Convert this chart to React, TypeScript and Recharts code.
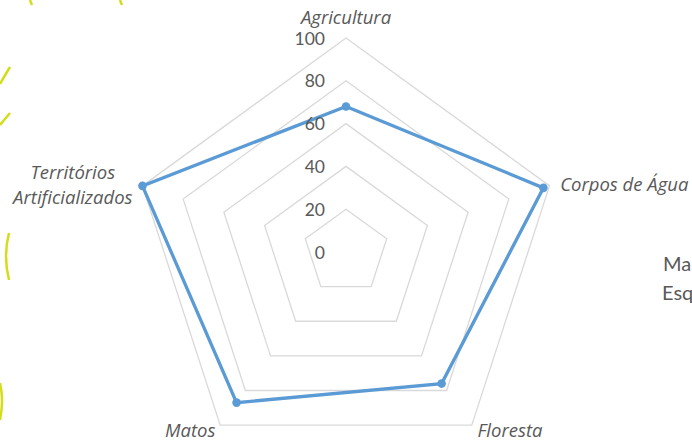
import React from "react";
import { RadarChart, Radar, PolarGrid, PolarAngleAxis, PolarRadiusAxis } from "recharts";

const CATEGORIES = ["Agricultura", "Corpos de Água", "Floresta", "Matos", "Territórios Artificializados"];
const VALUES = [68, 97, 76, 87, 100];
const RADIUS_TICKS = [0, 20, 40, 60, 80, 100];

const data = CATEGORIES.map((c, i) => ({ category: c, value: VALUES[i] }));

const TEXT = "#595959";
const LINE = "#5b9bd5";
const FONT = "Lato, 'Open Sans', sans-serif";
const LABEL_FONT = "'Open Sans', Lato, sans-serif";

function RadiusTick(props: any) {
  const { x, y, payload } = props;
  return (
    <text x={x - 21} y={y} textAnchor="end" dominantBaseline="central" fill={TEXT} fontSize={17.5} fontFamily={FONT}>
      {payload.value}
    </text>
  );
}

function AngleTick(props: any) {
  const { x, y, payload } = props;
  const label: string = payload.value;
  const common = { fill: TEXT, fontSize: 18.5, fontFamily: LABEL_FONT, fontStyle: "italic" as const };
  if (label === "Territórios Artificializados") {
    const [a, b] = label.split(" ");
    return (
      <text x={x - 62} y={y} textAnchor="middle" {...common}>
        <tspan x={x - 62} dy={-12} dominantBaseline="central">{a}</tspan>
        <tspan x={x - 62} dy={25} dominantBaseline="central">{b}</tspan>
      </text>
    );
  }
  let anchor: "start" | "middle" | "end" = "middle";
  let dx = 0;
  let dy = 0;
  if (label === "Agricultura") dy = -14;
  else if (label === "Corpos de Água") { anchor = "start"; dx = 3; }
  else if (label === "Floresta") { anchor = "start"; dx = 1; dy = -2; }
  else if (label === "Matos") { anchor = "end"; dx = 0; dy = -2; }
  return (
    <text x={x + dx} y={y + dy} textAnchor={anchor} dominantBaseline="central" {...common}>
      {label}
    </text>
  );
}

function Dot(props: any) {
  const { cx, cy, index } = props;
  return <circle key={index} cx={cx} cy={cy} r={4.3} fill={LINE} stroke="none" />;
}

export default function App() {
  return (
    <div style={{ position: "absolute", left: 0, top: 0, width: 692, height: 443, background: "#fff", overflow: "hidden" }}>
      <RadarChart width={692} height={443} data={data} cx={346} cy={252} outerRadius={214} margin={{ top: 0, right: 0, bottom: 0, left: 0 }}>
        <PolarGrid gridType="polygon" radialLines={false} stroke="#d9d9d9" strokeWidth={1.3} />
        <PolarAngleAxis dataKey="category" tick={<AngleTick />} axisLine={false} tickLine={false} />
        <PolarRadiusAxis
          angle={90}
          domain={[0, 100]}
          ticks={RADIUS_TICKS}
          axisLine={false}
          tickLine={false}
          tick={<RadiusTick />}
        />
        <Radar
          dataKey="value"
          stroke={LINE}
          strokeWidth={3.3}
          fill="none"
          fillOpacity={0}
          dot={Dot}
          isAnimationActive={false}
        />
      </RadarChart>
      <svg width={692} height={443} style={{ position: "absolute", left: 0, top: 0, pointerEvents: "none" }}>
        <g stroke="#d4dc1c" strokeWidth={2.5} fill="none">
          <path d="M30 0 Q31 3 32 5" />
          <path d="M120 0 Q121 3 122 5" />
          <path d="M10 67 Q5 75 0 84" />
          <path d="M10 113 Q5 119 0 125" />
          <path d="M9 233 Q3 256 9 280" />
          <path d="M0 383 Q4 400 0 420" />
        </g>
        <text x={663} y={263} dominantBaseline="central" fill={TEXT} fontSize={20} fontFamily={FONT}>Ma</text>
        <text x={662} y={292} dominantBaseline="central" fill={TEXT} fontSize={20} fontFamily={FONT}>Esq</text>
      </svg>
    </div>
  );
}
